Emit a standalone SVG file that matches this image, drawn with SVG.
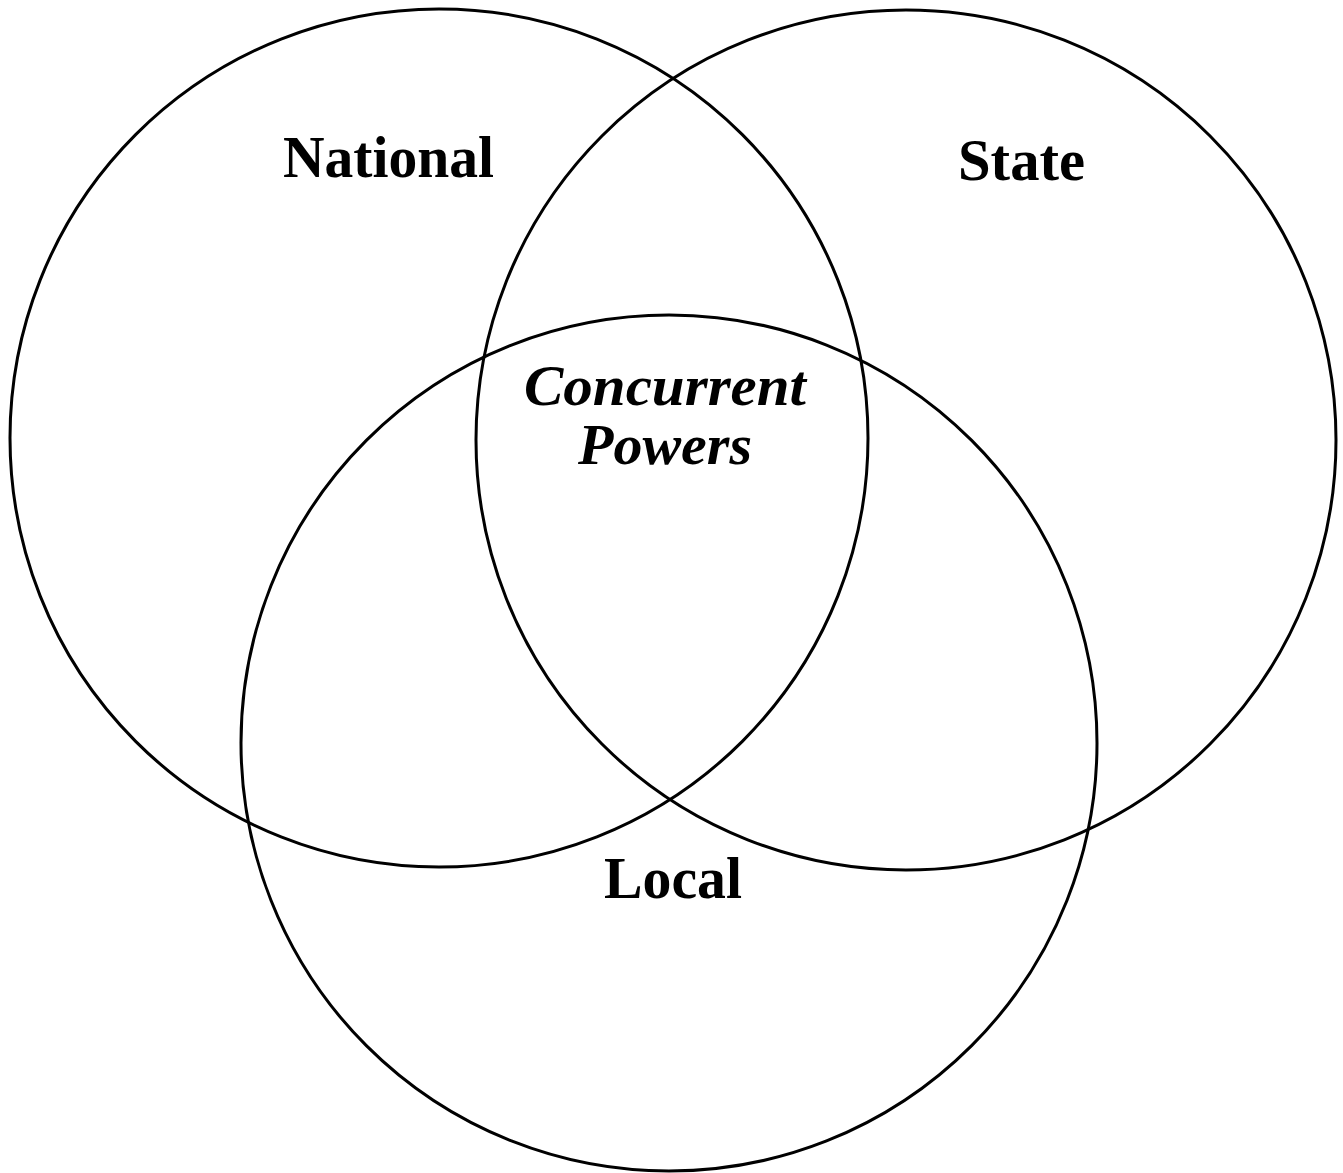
<svg xmlns="http://www.w3.org/2000/svg" width="1343" height="1173" viewBox="0 0 1343 1173">
<style>
.c{fill:none;stroke:#000;stroke-width:3}
.t{font-family:"Liberation Serif","Times New Roman",serif;font-weight:bold;fill:#000}
.i{font-style:italic}
</style>
<rect width="1343" height="1173" fill="#fff"/>
<g id="national"><circle class="c" cx="439" cy="438" r="429"/><text class="t" x="283" y="177" font-size="60" textLength="211" lengthAdjust="spacingAndGlyphs">National</text></g>
<g id="state"><circle class="c" cx="906" cy="440" r="430"/><text class="t" x="958" y="180" font-size="60" textLength="127" lengthAdjust="spacingAndGlyphs">State</text></g>
<g id="local"><circle class="c" cx="669" cy="743" r="428"/><text class="t" x="604" y="898" font-size="60" textLength="138" lengthAdjust="spacingAndGlyphs">Local</text></g>
<g id="concurrent"><text class="t i" x="524" y="405" font-size="58" textLength="282" lengthAdjust="spacingAndGlyphs">Concurrent</text><text class="t i" x="578" y="464" font-size="58" textLength="174" lengthAdjust="spacingAndGlyphs">Powers</text></g>
<g id="connectors"></g>
</svg>
